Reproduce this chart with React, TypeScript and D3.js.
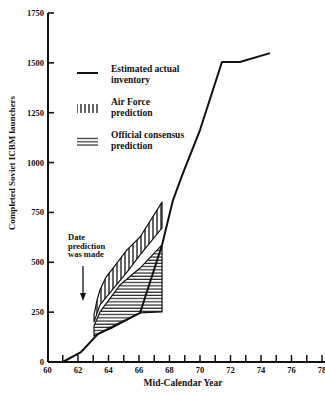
import React from "react";
import * as d3 from "d3";

const actualYears = [61.0, 62.2, 63.3, 64.2, 66.07, 67.51, 68.23, 68.89, 70.0, 71.44, 72.62, 74.59];
const actualValues = [0, 50, 140, 175, 246, 587, 812, 948, 1163, 1504, 1504, 1549];

const airForceYears = [63.05, 63.25, 63.44, 63.84, 64.3, 65.21, 66.07, 67.51, 67.51, 66.07, 65.21, 63.44, 63.05];
const airForceValues = [236, 311, 361, 426, 471, 562, 627, 802, 672, 537, 451, 286, 201];

const consensusYears = [63.05, 63.44, 64.75, 66.07, 67.51, 67.51, 66.07, 64.2, 63.05];
const consensusValues = [181, 251, 386, 471, 587, 251, 246, 170, 130];

const yTicks = [0, 250, 500, 750, 1000, 1250, 1500, 1750];
const xLabelTicks = [60, 62, 64, 66, 68, 70, 72, 74, 76, 78];
const xMinorTicks = [61, 62, 63, 64, 65, 66, 67, 68, 69, 70, 71, 72, 73, 74, 75, 76, 77, 78];

const legendItems = ["Estimated actual|inventory", "Air Force|prediction", "Official consensus|prediction"];
const annotationLines = ["Date", "prediction", "was made"];

const W = 325;
const H = 395;
const FONT = "'Liberation Serif', 'DejaVu Serif', serif";

export default function App() {
  const x = d3.scaleLinear().domain([60, 78]).range([47.5, 322]);
  const y = d3.scaleLinear().domain([0, 1750]).range([362, 13]);
  const x0 = 48;

  const line = d3
    .line<number>()
    .x((_, i) => x(actualYears[i]))
    .y((d) => y(d));

  const poly = (ys: number[], vs: number[]) =>
    d3.line<number>().x((_, i) => x(ys[i])).y((d) => y(d))(vs) + "Z";

  const afPath = poly(airForceYears, airForceValues);
  const coPath = poly(consensusYears, consensusValues);

  return (
    <svg
      width={W}
      height={H}
      style={{ position: "absolute", left: 0, top: 0, background: "#fff" }}
      fontFamily={FONT}
    >
      <defs>
        <pattern id="vh" patternUnits="userSpaceOnUse" width={4} height={4}>
          <line x1={1} y1={0} x2={1} y2={4} stroke="#111" strokeWidth={1.3} />
        </pattern>
        <pattern id="hh" patternUnits="userSpaceOnUse" width={4} height={3.2}>
          <line x1={0} y1={1} x2={4} y2={1} stroke="#111" strokeWidth={1.1} />
        </pattern>
      </defs>
      <rect width={W} height={H} fill="#fff" />

      {/* shaded prediction regions */}
      <path d={afPath} fill="url(#vh)" stroke="#111" strokeWidth={1.2} strokeLinejoin="round" />
      <path d={coPath} fill="url(#hh)" stroke="#111" strokeWidth={1.2} strokeLinejoin="round" />

      {/* actual inventory line */}
      <path d={line(actualValues) || ""} fill="none" stroke="#111" strokeWidth={2} strokeLinejoin="round" />

      {/* axes */}
      <line x1={x0} y1={y(1750)} x2={x0} y2={y(0)} stroke="#111" strokeWidth={2} />
      <line x1={x0} y1={y(0)} x2={W} y2={y(0)} stroke="#111" strokeWidth={2} />
      {yTicks.map((t) => (
        <g key={t}>
          <line x1={x0} y1={y(t)} x2={x0 + 6} y2={y(t)} stroke="#111" strokeWidth={1.6} />
          <text
            x={x0 - 4}
            y={y(t)}
            dy="0.35em"
            textAnchor="end"
            fontSize={8.5}
            fontWeight="bold"
            fill="#111"
          >
            {t}
          </text>
        </g>
      ))}
      {xMinorTicks.map((t) => (
        <line key={t} x1={x(t)} y1={y(0)} x2={x(t)} y2={y(0) - 7} stroke="#111" strokeWidth={1.5} />
      ))}
      {xLabelTicks.map((t) => (
        <text
          key={t}
          x={x(t)}
          y={y(0) + 11}
          textAnchor="middle"
          fontSize={8.5}
          fontWeight="bold"
          fill="#111"
        >
          {t}
        </text>
      ))}
      <text x={183} y={386} textAnchor="middle" fontSize={9.5} fontWeight="bold" fill="#111">
        Mid-Calendar Year
      </text>
      <text
        transform={`translate(15,${163}) rotate(-90)`}
        textAnchor="middle"
        fontSize={9}
        fontWeight="bold"
        fill="#111"
      >
        Completed Soviet ICBM launchers
      </text>

      {/* legend */}
      <line x1={77} y1={73} x2={98} y2={73} stroke="#111" strokeWidth={2} />
      <rect x={77} y={104} width={21} height={9} fill="url(#vh)" />
      <rect x={77} y={137} width={21} height={9} fill="url(#hh)" />
      {legendItems.map((item, i) => (
        <text key={i} x={111} y={72 + i * 33} fontSize={9.5} fontWeight="bold" fill="#111">
          {item.split("|").map((s, j) => (
            <tspan key={j} x={111} dy={j === 0 ? 0 : 11}>
              {s}
            </tspan>
          ))}
        </text>
      ))}

      {/* annotation */}
      <text x={68} y={240} fontSize={8.5} fontWeight="bold" fill="#111">
        {annotationLines.map((s, j) => (
          <tspan key={j} x={68} dy={j === 0 ? 0 : 8.5}>
            {s}
          </tspan>
        ))}
      </text>
      <line x1={83} y1={266} x2={83} y2={296} stroke="#111" strokeWidth={1.3} />
      <path d="M80,293 L83,301 L86,293 Z" fill="#111" />
    </svg>
  );
}
